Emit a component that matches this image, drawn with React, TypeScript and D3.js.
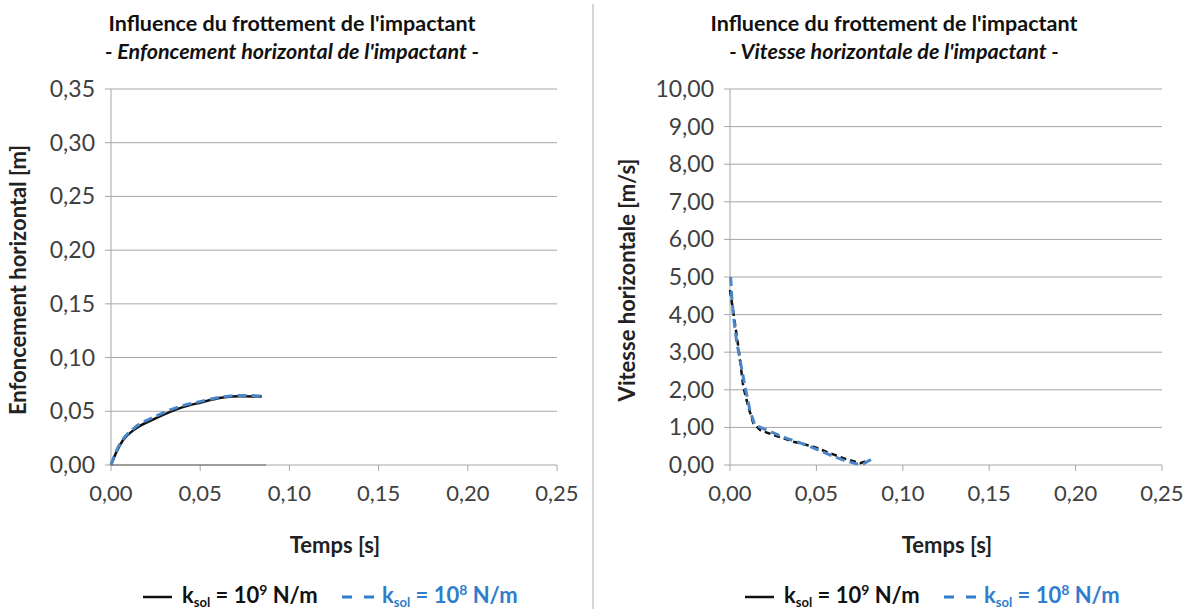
import React from "react"
import * as d3 from "d3"

// time ticks shared by both charts
const timeTicks = [0, 0.05, 0.1, 0.15, 0.2, 0.25]

// left chart: horizontal penetration [m]
const penTicks = [0, 0.05, 0.1, 0.15, 0.2, 0.25, 0.3, 0.35]
const penK9: Array<[number, number]> = [
    [0, 0], [0.003, 0.012], [0.0067, 0.023], [0.0123, 0.032], [0.0258, 0.044],
    [0.0386, 0.053], [0.0498, 0.058], [0.0627, 0.0628], [0.0722, 0.064], [0.0845, 0.0638],
]
const penK8: Array<[number, number]> = [
    [0, 0], [0.003, 0.013], [0.0067, 0.024], [0.0123, 0.0335], [0.0258, 0.046],
    [0.0386, 0.0545], [0.0498, 0.059], [0.0627, 0.0635], [0.0722, 0.0648], [0.0845, 0.0642],
]
const penZero: Array<[number, number]> = [[0, 0], [0.087, 0]]

// right chart: horizontal velocity [m/s]
const velTicks = [0, 1, 2, 3, 4, 5, 6, 7, 8, 9, 10]
const velK9: Array<[number, number]> = [
    [0, 4.65], [0.002, 4.04], [0.0048, 3.15], [0.0077, 2.08], [0.0106, 1.55],
    [0.0135, 1.11], [0.0174, 0.93], [0.025, 0.8], [0.0367, 0.62], [0.0482, 0.49],
    [0.0559, 0.35], [0.0656, 0.18], [0.0752, 0.05], [0.0811, 0.13],
]
const velK8: Array<[number, number]> = [
    [0.0004, 5.0], [0.001, 4.48], [0.002, 3.95], [0.0038, 3.3], [0.0058, 2.8],
    [0.0087, 2.08], [0.0115, 1.46], [0.0144, 1.06], [0.0212, 0.93], [0.0328, 0.71],
    [0.0443, 0.53], [0.0556, 0.31], [0.0656, 0.13], [0.0731, 0.03], [0.0773, 0.03], [0.082, 0.16],
]

const FONT = "Lato, 'Open Sans', sans-serif"
const BLUE = "#4a86c8"
const BLUE_TXT = "#2f7dcc"
const GRID = "#a6a6a6"
const TXT = "#404040"

interface PanelProps {
    x0: number
    w: number
    titleX: number
    yTicks: number[]
    yMax: number
    title2: string
    yLabel: string
    yLabelX: number
    k9: Array<[number, number]>
    k8: Array<[number, number]>
    zero?: Array<[number, number]>
    legendX: number
}

const comma2 = (v: number) => v.toFixed(2).replace(".", ",")

const LegendText = ({x, exp, fill}: {x: number, exp: string, fill: string}) => (
    <text x={x} y={603} fontSize={22} fontWeight="bold" fill={fill}>
        k<tspan fontSize={13} dy={4}>sol</tspan>
        <tspan dy={-4}> = 10</tspan>
        <tspan fontSize={14} dy={-8}>{exp}</tspan>
        <tspan dy={8}> N/m</tspan>
    </text>
)

const Panel = (p: PanelProps) => {
    const w = p.w
    const xScale = d3.scaleLinear().domain([0, 0.25]).range([p.x0, p.x0 + w])
    const yScale = d3.scaleLinear().domain([0, p.yMax]).range([465, 89])
    const smooth = d3.line<[number, number]>()
        .x(d => xScale(d[0]))
        .y(d => yScale(d[1]))
        .curve(d3.curveMonotoneX)
    const straight = d3.line<[number, number]>()
        .x(d => xScale(d[0]))
        .y(d => yScale(d[1]))
    const line = p.zero ? smooth : straight
    const lx = p.legendX
    return (
        <g fontFamily={FONT}>
            <text x={p.titleX} y={31} textAnchor="middle" fontSize={21.5} fontWeight="bold" fill="#111">
                Influence du frottement de l'impactant
            </text>
            <text x={p.titleX} y={59} textAnchor="middle" fontSize={21.5} fontWeight="bold" fontStyle="italic" fill="#111">
                {p.title2}
            </text>
            {p.yTicks.map(t => (
                <g key={t}>
                    <line x1={p.x0 - 6} x2={p.x0 + w} y1={yScale(t)} y2={yScale(t)} stroke={GRID} strokeWidth={1} />
                    <text x={p.x0 - 16} y={yScale(t) + 8} textAnchor="end" fontSize={23} fill={TXT}>
                        {comma2(t)}
                    </text>
                </g>
            ))}
            <line x1={p.x0} x2={p.x0} y1={89} y2={465} stroke={GRID} />
            {timeTicks.map(t => (
                <g key={t}>
                    <line x1={xScale(t)} x2={xScale(t)} y1={465} y2={471} stroke={GRID} />
                    <text x={xScale(t)} y={501} textAnchor="middle" fontSize={22} fill={TXT}>
                        {comma2(t)}
                    </text>
                </g>
            ))}
            <text x={xScale(0.125) + 1} y={553} textAnchor="middle" fontSize={22} fontWeight="bold" fill="#222">
                Temps [s]
            </text>
            <text transform={`translate(${p.yLabelX},280) rotate(-90)`} textAnchor="middle" fontSize={22}
                  fontWeight="bold" fill="#222">
                {p.yLabel}
            </text>
            {p.zero && <path d={straight(p.zero) || ""} stroke="#666" strokeWidth={1.2} fill="none" />}
            <path d={line(p.k9) || ""} stroke="#111" strokeWidth={2.5} fill="none"
                  strokeDasharray={p.zero ? undefined : "6,4"} />
            <path d={line(p.k8) || ""} stroke={BLUE} strokeWidth={3} fill="none"
                  strokeDasharray="9,5" />
            {/* legend */}
            <line x1={lx} x2={lx + 29} y1={597} y2={597} stroke="#111" strokeWidth={2.5} />
            <LegendText x={lx + 39} exp="9" fill="#111" />
            <line x1={lx + 199} x2={lx + 231} y1={597} y2={597} stroke={BLUE_TXT} strokeWidth={3}
                  strokeDasharray="10,12" />
            <LegendText x={lx + 239} exp="8" fill={BLUE_TXT} />
        </g>
    )
}

const App = () => {
    return (
        <svg width={1193} height={609} viewBox="0 0 1193 609"
             style={{position: "absolute", left: 0, top: 0, background: "#fff"}}>
            <rect width={1193} height={609} fill="#fff" />
            <line x1={593} x2={593} y1={4} y2={609} stroke="#c8c8c8" strokeWidth={1.5} />
            <Panel x0={111} w={446} titleX={292} yTicks={penTicks} yMax={0.35}
                   title2="- Enfoncement horizontal de l'impactant -"
                   yLabel="Enfoncement horizontal [m]" yLabelX={26}
                   k9={penK9} k8={penK8} zero={penZero} legendX={143} />
            <Panel x0={730} w={432} titleX={894} yTicks={velTicks} yMax={10}
                   title2="- Vitesse horizontale de l'impactant -"
                   yLabel="Vitesse horizontale [m/s]" yLabelX={635}
                   k9={velK9} k8={velK8} legendX={745} />
        </svg>
    )
}

export default App
